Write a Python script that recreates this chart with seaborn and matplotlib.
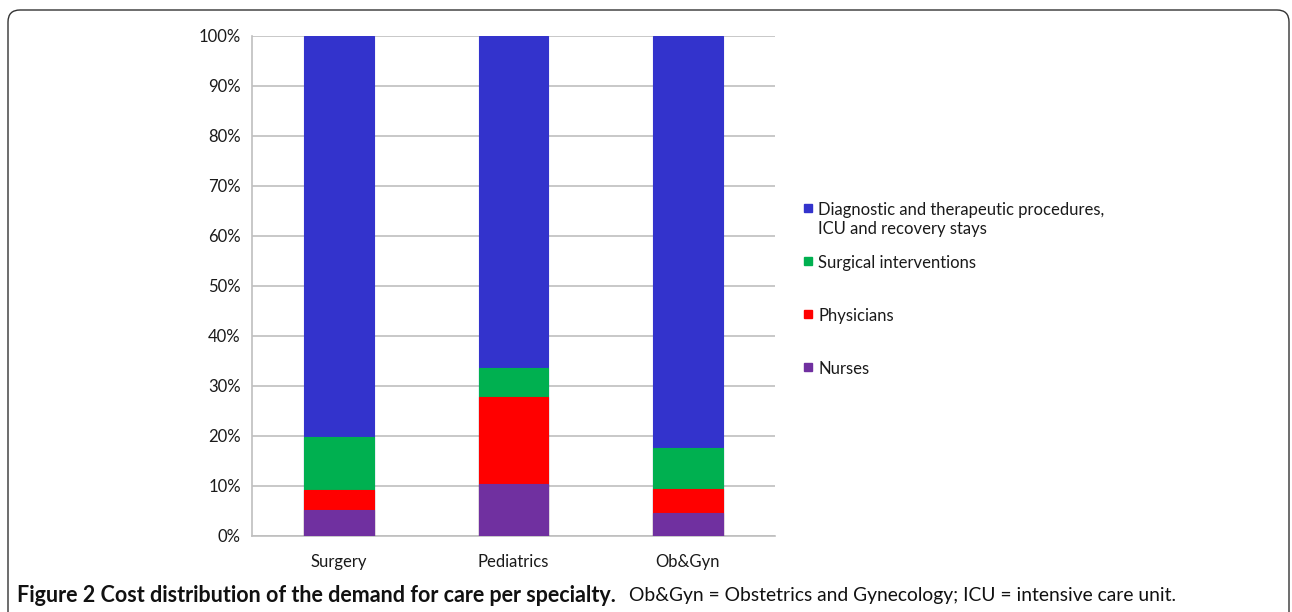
import matplotlib
matplotlib.use("Agg")
import matplotlib.pyplot as plt
import seaborn as sns
import pandas as pd
from matplotlib.patches import FancyBboxPatch, Rectangle
from matplotlib.ticker import FixedLocator, PercentFormatter

# --- data (percent of total cost per specialty) ---
specialties = ["Surgery", "Pediatrics", "Ob&Gyn"]
nurses = [5.2, 10.5, 4.7]
physicians = [4.0, 17.3, 4.8]
surgical = [10.7, 5.8, 8.2]
diagnostic = [80.1, 66.4, 82.3]

series_names = ["Diagnostic and therapeutic procedures,\nICU and recovery stays",
                "Surgical interventions", "Physicians", "Nurses"]
colors = ["#3333CC", "#00B050", "#FF0000", "#7030A0"]

df = pd.DataFrame({"specialty": specialties, "nurses": nurses,
                   "physicians": physicians, "surgical": surgical,
                   "diagnostic": diagnostic})
# cumulative tops, drawn largest first so smaller bars sit on top
df["top_nurses"] = df["nurses"]
df["top_physicians"] = df["top_nurses"] + df["physicians"]
df["top_surgical"] = df["top_physicians"] + df["surgical"]
df["top_diagnostic"] = df["top_surgical"] + df["diagnostic"]

sns.set_style("white")
plt.rcParams["font.family"] = ["Lato", "DejaVu Sans"]

W, H = 1292, 612
fig = plt.figure(figsize=(W / 100, H / 100), dpi=100)
ax = fig.add_axes([252 / W, 1 - 536 / H, 523 / W, 500 / H])

for col, c in zip(["top_diagnostic", "top_surgical", "top_physicians", "top_nurses"], colors):
    sns.barplot(data=df, x="specialty", y=col, color=c, width=0.4,
                saturation=1, edgecolor=c, linewidth=0.8, ax=ax, zorder=3)

ax.set_ylim(0, 100)
ax.set_xlim(-0.5, 2.5)
ax.set_yticks(range(0, 101, 10))
ax.yaxis.set_major_formatter(PercentFormatter(decimals=0))
ax.set_xlabel("")
ax.set_ylabel("")
ax.grid(axis="y", color="#BFBFBF", linewidth=1.2, zorder=0)
ax.set_axisbelow(True)
for s in ["top", "right"]:
    ax.spines[s].set_visible(False)
for s in ["left", "bottom"]:
    ax.spines[s].set_color("#BFBFBF")
    ax.spines[s].set_linewidth(1.2)
ax.tick_params(axis="y", length=5, color="#BFBFBF", width=1.2, labelsize=12,
               labelcolor="#1a1a1a", pad=3)
ax.tick_params(axis="x", which="major", length=0, labelsize=12,
               labelcolor="#1a1a1a", pad=13)
ax.xaxis.set_minor_locator(FixedLocator([-0.5, 0.5, 1.5, 2.5]))
ax.tick_params(axis="x", which="minor", length=6, color="#BFBFBF", width=1.2)

# legend, Excel-style: entries evenly spaced, marker on the first text line
leg_y = [208, 261, 314, 367]
for name, c, y in zip(series_names, colors, leg_y):
    fig.add_artist(Rectangle((804, H - y - 4), 8, 8, transform=None,
                             facecolor=c, edgecolor=c))
    fig.text(818 / W, 1 - (y - 6) / H, name, fontsize=12, va="top", ha="left",
             color="#1a1a1a", linespacing=1.2)

# rounded frame around the figure
frame = FancyBboxPatch((8, -20), 1281, 622, boxstyle="round,pad=0,rounding_size=12",
                       transform=None, facecolor="none", edgecolor="#333333",
                       linewidth=1.0)
fig.add_artist(frame)

# caption
t1 = fig.text(17 / W, 1 - 595 / H, "Figure 2 Cost distribution of the demand for care per specialty.",
              fontsize=15.5, fontweight="bold", va="center", ha="left", color="#111111")
fig.canvas.draw()
bb = t1.get_window_extent(fig.canvas.get_renderer())
fig.text((bb.x1 + 13) / W, 1 - 595 / H,
         "Ob&Gyn = Obstetrics and Gynecology; ICU = intensive care unit.",
         fontsize=13.9, va="center", ha="left", color="#111111")

fig.savefig("out.png", dpi=100)
plt.close(fig)
